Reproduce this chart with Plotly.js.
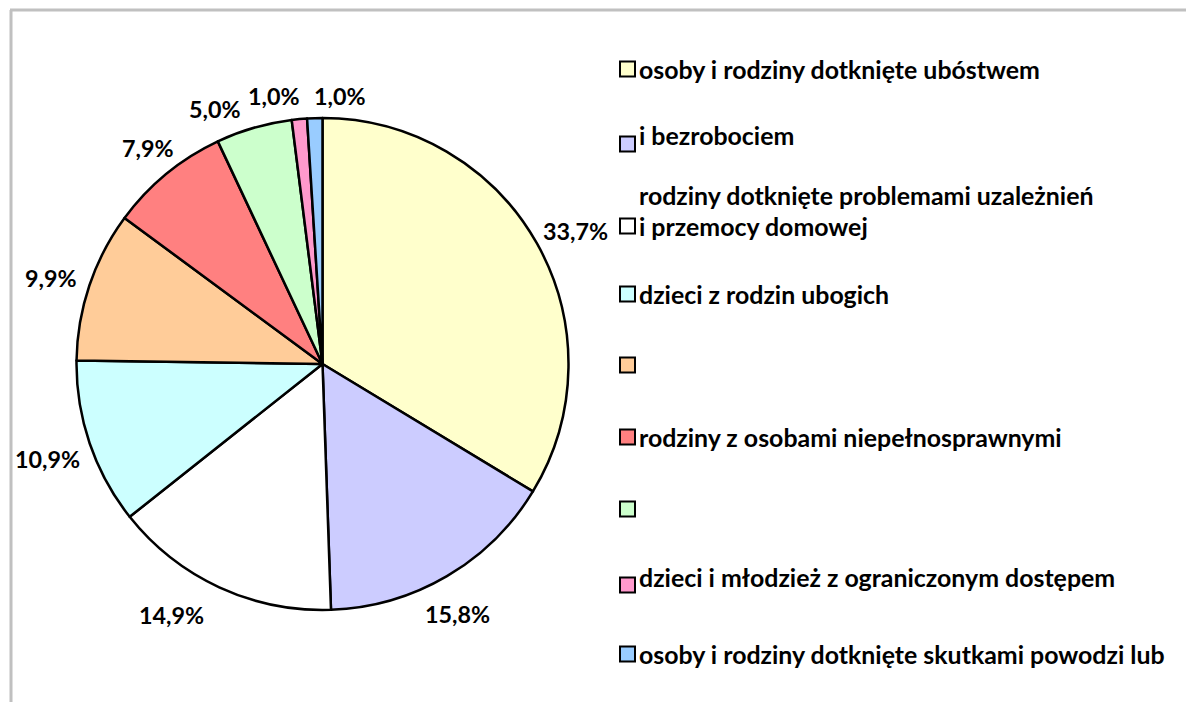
<!DOCTYPE html>
<html>
<head>
<meta charset="utf-8">
<script src="https://cdn.plot.ly/plotly-3.0.1.min.js"></script>
<style>
  html, body { margin: 0; padding: 0; background: #ffffff; }
  #chart { width: 1186px; height: 702px; }
</style>
</head>
<body>
<div id="chart"></div>
<script>
// ---- data ----
var categories = [
  "osoby i rodziny dotknięte ubóstwem",
  "i bezrobociem",
  "rodziny dotknięte problemami uzależnień\ni przemocy domowej",
  "dzieci z rodzin ubogich",
  "",
  "rodziny z osobami niepełnosprawnymi",
  "",
  "dzieci i młodzież z ograniczonym dostępem",
  "osoby i rodziny dotknięte skutkami powodzi lub"
];
var values = [33.7, 15.8, 14.9, 10.9, 9.9, 7.9, 5.0, 1.0, 1.0];
var sliceColors = ["#FFFFCC", "#CCCCFF", "#FFFFFF", "#CCFFFF", "#FFCC99",
                   "#FF8080", "#CCFFCC", "#FF99CC", "#99CCFF"];

// ---- layout helpers (pixel -> paper) ----
var W = 1186, H = 702;
function px(x) { return x / W; }
function py(y) { return 1 - y / H; }

var FONT = "Lato, 'Liberation Sans', sans-serif";

// fit font size to a target pixel width (Excel Calibri-like sizing)
function fitSize(text, targetW) {
  var c = document.createElement("canvas").getContext("2d");
  c.font = "bold 100px Lato";
  var w = c.measureText(text).width;
  return Math.round(100 * targetW / w * 10) / 10;
}
var legendSize = fitSize("osoby i rodziny dotknięte ubóstwem", 403);
var labelSize = fitSize("33,7%", 65);

// pie geometry (pixels)
var cx = 322.5, cy = 364, r = 246;

var trace = {
  type: "pie",
  values: values,
  labels: categories.map(function (c, i) { return "s" + i; }),
  sort: false,
  direction: "clockwise",
  rotation: 0,
  marker: { colors: sliceColors, line: { color: "#000000", width: 2.5 } },
  textinfo: "none",
  hoverinfo: "none",
  showlegend: false,
  automargin: false,
  domain: { x: [px(cx - r), px(cx + r)], y: [py(cy + r), py(cy - r)] }
};

var shapes = [];
var annotations = [];

// ---- data labels: outside-end, at each slice's mid angle ----
var total = values.reduce(function (a, b) { return a + b; }, 0);
var angleNudge = [1.7, 1.9, 6.2, -0.2, -1.0, 0.4, -6.7, -4.9, 5.5];
var radialGap = [40, 38, 47, 45, 39, 32, 31, 26, 23];
var cum = 0;
values.forEach(function (v, i) {
  var mid = (cum + v / 2) / total * 360;
  cum += v;
  var a = (mid + angleNudge[i]) * Math.PI / 180;
  var d = r + radialGap[i];
  var lx = cx + d * Math.sin(a), ly = cy - d * Math.cos(a);
  annotations.push({ xref: "paper", yref: "paper", x: px(lx), y: py(ly),
    xanchor: "center", yanchor: "middle", showarrow: false,
    text: v.toFixed(1).replace(".", ",") + "%",
    font: { family: FONT, size: labelSize, color: "#000000", weight: "bold" } });
});

// ---- manual legend (Excel style) ----
var rowY = [69, 144, 226, 294, 365, 437, 509, 585, 654];
var textDy = [0, -9, 0, 0, 0, 0, 0, -8, 0];
var lineGap = 31;
var markerX = 620, markerS = 15, textX = 637;

// frame (top and left light-gray edges)
shapes.push({ type: "line", xref: "paper", yref: "paper",
  x0: px(10), y0: py(10), x1: px(W + 5), y1: py(10),
  line: { color: "#C0C0C0", width: 3 } });
shapes.push({ type: "line", xref: "paper", yref: "paper",
  x0: px(11), y0: py(10), x1: px(11), y1: py(H + 5),
  line: { color: "#C0C0C0", width: 3 } });

categories.forEach(function (label, i) {
  var y = rowY[i];
  shapes.push({ type: "rect", xref: "paper", yref: "paper",
    x0: px(markerX), x1: px(markerX + markerS),
    y0: py(y + markerS / 2), y1: py(y - markerS / 2),
    fillcolor: sliceColors[i], line: { color: "#000000", width: 2 } });
  if (label) {
    var lines = label.split("\n");
    lines.forEach(function (ln, k) {
      var ty = y + textDy[i] - (lines.length - 1 - k) * lineGap;
      annotations.push({ xref: "paper", yref: "paper",
        x: px(textX), y: py(ty), xanchor: "left", yanchor: "middle",
        text: ln, showarrow: false,
        font: { family: FONT, size: legendSize, color: "#000000", weight: "bold" } });
    });
  }
});

var layout = {
  width: W, height: H,
  margin: { l: 0, r: 0, t: 0, b: 0, pad: 0 },
  paper_bgcolor: "#FFFFFF",
  plot_bgcolor: "#FFFFFF",
  separators: ", ",
  showlegend: false,
  shapes: shapes,
  annotations: annotations,
  font: { family: FONT }
};

Plotly.newPlot("chart", [trace], layout, { displayModeBar: false, staticPlot: true });
</script>
</body>
</html>
